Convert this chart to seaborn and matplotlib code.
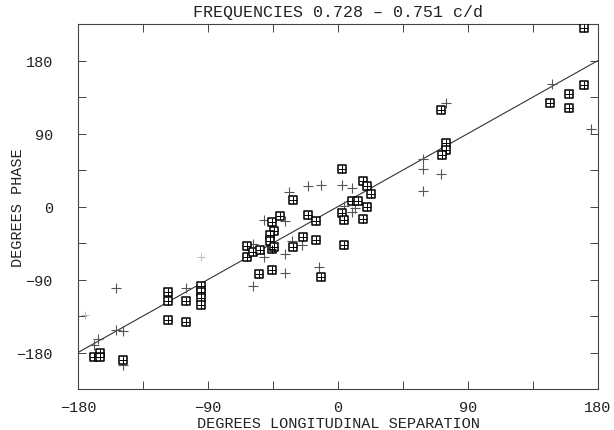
import matplotlib
matplotlib.use('Agg')
import matplotlib.pyplot as plt
import seaborn as sns
from matplotlib.ticker import MultipleLocator

# boxed points (square with plus)
box_x = [-169, -165, -165, -149, -118, -118, -105, -118, -105,
         -95, -95, -95, -95, -63, -63, -59, -54, -46, -55, -46,
         -46, -40, -44, -47, -47, -44, -31, -31, -24, -21, -15,
         -15, -12, 3, 17, 20, 23, 10, 14, 20, 3, 4, 17, 4,
         71, 75, 75, 72, 147, 160, 160, 170, 170]
box_y = [-185, -181, -186, -189, -105, -117, -117, -140, -142,
         -98, -105, -113, -121, -49, -62, -56, -54, -52, -83, -78,
         -19, -12, -30, -35, -43, -50, 8, -50, -37, -10, -18,
         -41, -87, 46, 32, 25, 16, 7, 7, 0, -8, -17, -15, -48,
         119, 78, 70, 63, 127, 139, 122, 150, 220]

# plain crosses
cross_x = [-154, -105, -166, -169, -154, -149, -149,
           -34, -51, -37, -32, -37, -59, -51, -37, -59,
           -21, -12, 3, 10, 4, 12, 10, -25, -13,
           75, 59, 59, 71, 59, 148, 175]
cross_y = [-100, -101, -163, -171, -152, -154, -195,
           18, -16, -18, -42, -58, -46, -62, -82, -98,
           25, 27, 26, 23, 1, -2, -7, -47, -75,
           128, 59, 46, 40, 19, 151, 96]

# faint, barely printed crosses
faint_x = [-175, -95]
faint_y = [-134, -62]

sns.set_style('ticks')
plt.rcParams['font.family'] = ['Liberation Mono', 'DejaVu Sans']

fig = plt.figure(figsize=(6.14, 4.31), dpi=100)
ax = fig.add_axes([0.127, 0.095, 0.847, 0.847])

ax.axline((0, 0), slope=1, color='#333333', lw=0.8, zorder=1)

sns.scatterplot(x=faint_x, y=faint_y, marker='+', s=30, color='#bbbbbb',
                linewidth=0.7, ax=ax, zorder=2)
sns.scatterplot(x=cross_x, y=cross_y, marker='+', s=55, color='#555555',
                linewidth=0.8, ax=ax, zorder=2)
sns.scatterplot(x=box_x, y=box_y, marker='s', s=40, facecolor='white',
                edgecolor='black', linewidth=1.1, ax=ax, zorder=3)
sns.scatterplot(x=box_x, y=box_y, marker='+', s=30, color='black',
                linewidth=0.7, ax=ax, zorder=4)

ax.set_xlim(-180, 180)
ax.set_ylim(-225, 225)
ax.xaxis.set_major_locator(MultipleLocator(90))
ax.xaxis.set_minor_locator(MultipleLocator(45))
ax.yaxis.set_major_locator(MultipleLocator(90))
ax.yaxis.set_minor_locator(MultipleLocator(45))
ax.tick_params(which='both', direction='in', top=True, right=True,
               length=6, width=0.7, color='#444444', labelsize=11,
               labelcolor='#222222')
ax.tick_params(axis='x', pad=8)
ax.tick_params(axis='y', pad=18)

for sp in ax.spines.values():
    sp.set_visible(True)
    sp.set_linewidth(0.8)
    sp.set_color('#444444')

ax.set_xlabel('DEGREES LONGITUDINAL SEPARATION', fontsize=11, labelpad=1,
              color='#222222')
ax.set_ylabel('DEGREES PHASE', fontsize=11, color='#222222')
ax.yaxis.set_label_coords(-0.102, 0.5)
ax.set_title('FREQUENCIES 0.728 \u2013 0.751 c/d', fontsize=12, pad=6,
             color='#222222')

plt.savefig('out.png', dpi=100)
